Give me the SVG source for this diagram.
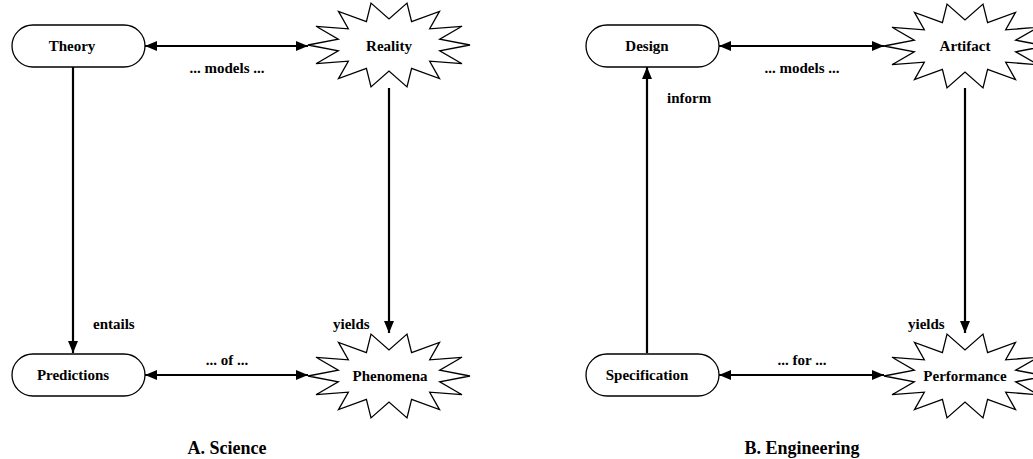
<svg xmlns="http://www.w3.org/2000/svg" width="1033" height="459" viewBox="0 0 1033 459">
<style>
.box{fill:#fff;stroke:#000;stroke-width:1.3}
.star{fill:#fff;stroke:#000;stroke-width:1.3}
.t{font-family:"Liberation Serif","Times New Roman",serif;font-weight:bold;font-size:15px;fill:#000;text-anchor:middle}
.title{font-size:18px}
.lbl{text-anchor:start}
.c{stroke:#000;stroke-width:2.2;fill:none}
</style>
<defs>
<marker id="ah" markerUnits="userSpaceOnUse" markerWidth="13" markerHeight="10" refX="12" refY="5" orient="auto-start-reverse">
<path d="M0,0 L12,5 L0,10 z" fill="#000"/>
</marker>
<polygon id="starShape" points="81,0 50.7,5.8 73,18.7 40.7,16.2 50.5,33.6 22.6,23.4 18,41.9 0,26 -18,41.9 -22.6,23.4 -50.5,33.6 -40.7,16.2 -73,18.7 -50.7,5.8 -81,0 -50.7,-5.8 -73,-18.7 -40.7,-16.2 -50.5,-33.6 -22.6,-23.4 -18,-41.9 0,-26 18,-41.9 22.6,-23.4 50.5,-33.6 40.7,-16.2 73,-18.7 50.7,-5.8"/>
</defs>
<rect width="1033" height="459" fill="#fff"/>
<g id="connectors">
<line class="c" x1="145" y1="46" x2="308" y2="46" marker-start="url(#ah)" marker-end="url(#ah)"/>
<line class="c" x1="145" y1="375" x2="308" y2="375" marker-start="url(#ah)" marker-end="url(#ah)"/>
<line class="c" x1="73" y1="67" x2="73" y2="353" marker-end="url(#ah)"/>
<line class="c" x1="389" y1="88" x2="389" y2="333" marker-end="url(#ah)"/>
<line class="c" x1="719" y1="46" x2="884" y2="46" marker-start="url(#ah)" marker-end="url(#ah)"/>
<line class="c" x1="719" y1="375" x2="884" y2="375" marker-start="url(#ah)" marker-end="url(#ah)"/>
<line class="c" x1="647" y1="353" x2="647" y2="67" marker-end="url(#ah)"/>
<line class="c" x1="965" y1="88" x2="965" y2="333" marker-end="url(#ah)"/>
<text class="t" x="227" y="73">... models ...</text>
<text class="t" x="227" y="365">... of ...</text>
<text class="t lbl" x="93" y="329">entails</text>
<text class="t lbl" x="333" y="329">yields</text>
<text class="t" x="802" y="73">... models ...</text>
<text class="t" x="802" y="365">... for ...</text>
<text class="t lbl" x="667" y="103">inform</text>
<text class="t lbl" x="908" y="329">yields</text>
</g>
<g id="theory">
<rect class="box" x="12" y="25" width="133" height="42" rx="21" ry="21"/>
<text class="t" x="72" y="51">Theory</text>
</g>
<g id="reality">
<use href="#starShape" class="star" transform="translate(389,45)"/>
<text class="t" x="389" y="51">Reality</text>
</g>
<g id="predictions">
<rect class="box" x="12" y="354" width="133" height="42" rx="21" ry="21"/>
<text class="t" x="73" y="380">Predictions</text>
</g>
<g id="phenomena">
<use href="#starShape" class="star" transform="translate(389,376)"/>
<text class="t" x="390" y="381">Phenomena</text>
</g>
<g id="design">
<rect class="box" x="586" y="25" width="133" height="42" rx="21" ry="21"/>
<text class="t" x="647" y="51">Design</text>
</g>
<g id="artifact">
<use href="#starShape" class="star" transform="translate(965,46)"/>
<text class="t" x="965" y="51">Artifact</text>
</g>
<g id="specification">
<rect class="box" x="586" y="354" width="133" height="42" rx="21" ry="21"/>
<text class="t" x="647" y="380">Specification</text>
</g>
<g id="performance">
<use href="#starShape" class="star" transform="translate(965,376)"/>
<text class="t" x="965" y="381">Performance</text>
</g>
<g id="captions">
<text class="t title" x="227" y="454">A. Science</text>
<text class="t title" x="802" y="454">B. Engineering</text>
</g>
</svg>
